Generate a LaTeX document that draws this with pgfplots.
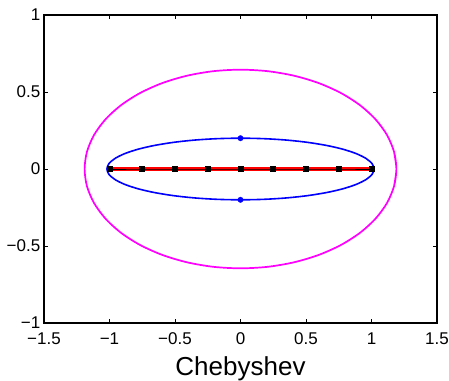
\documentclass[border=0pt]{standalone}
\usepackage{pgfplots}
\pgfplotsset{compat=1.18}
\usepackage{fontspec}
\setmainfont{Liberation Sans}
\begin{document}
\begin{tikzpicture}
\useasboundingbox (-44bp,-58bp) rectangle (405bp,323bp);
\begin{axis}[
  at={(0,0)}, anchor=south west,
  scale only axis, width=393bp, height=308bp,
  xmin=-1.5, xmax=1.5, ymin=-1, ymax=1,
  xtick={-1.5,-1,-0.5,0,0.5,1,1.5},
  xticklabels={−1.5,−1,−0.5,0,0.5,1,1.5},
  ytick={-1,-0.5,0,0.5,1},
  yticklabels={−1,−0.5,0,0.5,1},
  tick align=inside, major tick length=4bp,
  axis line style={line width=1.1bp, black},
  every tick/.style={black, line width=0.8bp},
  ticklabel style={font=\fontsize{17bp}{20bp}\selectfont},
  xticklabel style={anchor=base, inner sep=0pt, yshift=-21bp},
  yticklabel style={anchor=east, inner sep=0pt, xshift=-3.5bp},
  xlabel={Chebyshev},
  xlabel style={font=\fontsize{26bp}{30bp}\selectfont, at={(axis description cs:0.5,0)}, anchor=base, inner sep=0pt, yshift=-52bp},
  clip=false,
]
% magenta ellipse
\addplot[color={rgb,255:red,255;green,0;blue,255}, line width=1.7bp, smooth] coordinates {
(1.17192,-0.11200)
(1.19,0) (1.17192,0.11200) (1.11823,0.22060) (1.03058,0.3225) (0.91159,0.41460) (0.76492,0.49410) (0.595,0.55859) (0.40700,0.60610) (0.20664,0.63520) (0,0.645)
(-0.20664,0.63520) (-0.40700,0.60610) (-0.595,0.55859) (-0.76492,0.49410) (-0.91159,0.41460) (-1.03058,0.3225) (-1.11823,0.22060) (-1.17192,0.11200) (-1.19,0)
(-1.17192,-0.11200) (-1.11823,-0.22060) (-1.03058,-0.3225) (-0.91159,-0.41460) (-0.76492,-0.49410) (-0.595,-0.55859) (-0.40700,-0.60610) (-0.20664,-0.63520) (0,-0.645)
(0.20664,-0.63520) (0.40700,-0.60610) (0.595,-0.55859) (0.76492,-0.49410) (0.91159,-0.41460) (1.03058,-0.3225) (1.11823,-0.22060) (1.17192,-0.11200) (1.19,0) (1.17192,0.11200)
};
% blue ellipse
\addplot[color={rgb,255:red,0;green,0;blue,255}, line width=1.6bp, smooth] coordinates {
(1.00431,-0.03473)
(1.0198,0) (1.00431,0.03473) (0.95830,0.06840) (0.88317,0.1) (0.78121,0.12856) (0.65552,0.15321) (0.5099,0.17321) (0.34879,0.18794) (0.17709,0.19696) (0,0.2)
(-0.17709,0.19696) (-0.34879,0.18794) (-0.5099,0.17321) (-0.65552,0.15321) (-0.78121,0.12856) (-0.88317,0.1) (-0.95830,0.06840) (-1.00431,0.03473) (-1.0198,0)
(-1.00431,-0.03473) (-0.95830,-0.06840) (-0.88317,-0.1) (-0.78121,-0.12856) (-0.65552,-0.15321) (-0.5099,-0.17321) (-0.34879,-0.18794) (-0.17709,-0.19696) (0,-0.2)
(0.17709,-0.19696) (0.34879,-0.18794) (0.5099,-0.17321) (0.65552,-0.15321) (0.78121,-0.12856) (0.88317,-0.1) (0.95830,-0.06840) (1.00431,-0.03473) (1.0198,0) (1.00431,0.03473)
};
% blue dots
\addplot[only marks, mark=*, mark size=2.7bp, color={rgb,255:red,0;green,0;blue,255}] coordinates {(0,0.2) (0,-0.2)};
% red thick line
\addplot[color={rgb,255:red,255;green,0;blue,0}, line width=3.5bp] coordinates {(-1,0) (1,0)};
% black line with squares
\addplot[black, line width=0.9bp, mark=square*, mark size=2.5bp, mark options={solid}] coordinates {
(-1,0) (-0.75,0) (-0.5,0) (-0.25,0) (0,0) (0.25,0) (0.5,0) (0.75,0) (1,0)
};
\end{axis}
\end{tikzpicture}
\end{document}
